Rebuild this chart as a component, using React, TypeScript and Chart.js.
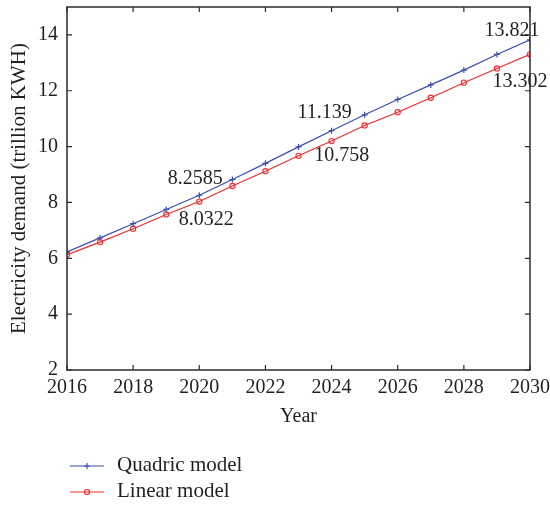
import React, { useEffect, useRef } from "react";
import { Chart, registerables } from "chart.js";

Chart.register(...registerables);

const years = [2016, 2017, 2018, 2019, 2020, 2021, 2022, 2023, 2024, 2025, 2026, 2027, 2028, 2029, 2030];
const quadric = [6.23, 6.73, 7.24, 7.75, 8.2585, 8.82, 9.4, 9.99, 10.57, 11.139, 11.69, 12.21, 12.74, 13.3, 13.821];
const linear = [6.13, 6.58, 7.06, 7.57, 8.0322, 8.59, 9.12, 9.67, 10.2, 10.758, 11.23, 11.75, 12.29, 12.8, 13.302];
const xTicks = [2016, 2018, 2020, 2022, 2024, 2026, 2028, 2030];
const yTicks = [2, 4, 6, 8, 10, 12, 14];
const seriesNames = ["Quadric model", "Linear model"];
const annotations = [
  { series: 0, year: 2020, text: "8.2585", dx: -4, dy: -16 },
  { series: 1, year: 2020, text: "8.0322", dx: 7, dy: 18 },
  { series: 0, year: 2025, text: "11.139", dx: -40, dy: -2 },
  { series: 1, year: 2025, text: "10.758", dx: -23, dy: 30 },
  { series: 0, year: 2030, text: "13.821", dx: -18, dy: -9 },
  { series: 1, year: 2030, text: "13.302", dx: -10, dy: 27 },
];

const BLUE = "#3a4db0";
const RED = "#f42a2a";
const FONT = "'Liberation Serif', 'DejaVu Serif', serif";
const TEXT = "#231f20";
const FS = 20;

const framePlugin = {
  id: "frame",
  afterDraw(chart: any) {
    const { ctx, chartArea: a, scales } = chart;
    const xs = scales.x, ys = scales.y;
    ctx.save();
    ctx.strokeStyle = "#2b2b2b";
    ctx.lineWidth = 1.5;
    ctx.strokeRect(a.left, a.top, a.right - a.left, a.bottom - a.top);
    const tl = 5;
    ctx.lineWidth = 1.2;
    ctx.beginPath();
    for (const v of xTicks) {
      const px = xs.getPixelForValue(v);
      ctx.moveTo(px, a.bottom); ctx.lineTo(px, a.bottom - tl);
      ctx.moveTo(px, a.top); ctx.lineTo(px, a.top + tl);
    }
    for (const v of yTicks) {
      const py = ys.getPixelForValue(v);
      ctx.moveTo(a.left, py); ctx.lineTo(a.left + tl, py);
      ctx.moveTo(a.right, py); ctx.lineTo(a.right - tl, py);
    }
    ctx.stroke();

    // annotations
    ctx.fillStyle = TEXT;
    ctx.font = `${FS}px ${FONT}`;
    ctx.textAlign = "center";
    ctx.textBaseline = "middle";
    for (const an of annotations) {
      const arr = an.series === 0 ? quadric : linear;
      const idx = years.indexOf(an.year);
      const px = xs.getPixelForValue(an.year);
      const py = ys.getPixelForValue(arr[idx]);
      ctx.fillText(an.text, px + an.dx, py + an.dy);
    }

    // legend
    const items = [
      { name: seriesNames[0], color: BLUE, style: "cross", y: 466 },
      { name: seriesNames[1], color: RED, style: "circle", y: 492 },
    ];
    ctx.font = `21px ${FONT}`;
    for (const it of items) {
      ctx.strokeStyle = it.color;
      ctx.lineWidth = 1.2;
      ctx.beginPath();
      ctx.moveTo(70, it.y); ctx.lineTo(104, it.y);
      ctx.stroke();
      ctx.beginPath();
      if (it.style === "cross") {
        ctx.moveTo(87, it.y - 3); ctx.lineTo(87, it.y + 3);
        ctx.moveTo(84, it.y); ctx.lineTo(90, it.y);
      } else {
        ctx.arc(87, it.y, 2.5, 0, Math.PI * 2);
      }
      ctx.stroke();
      ctx.fillStyle = TEXT;
      ctx.textAlign = "left";
      ctx.fillText(it.name, 117, it.y - 1);
    }
    ctx.restore();
  },
};

export default function App() {
  const ref = useRef<HTMLCanvasElement>(null);
  useEffect(() => {
    if (!ref.current) return;
    const chart = new Chart(ref.current, {
      type: "line",
      data: {
        datasets: [
          {
            label: seriesNames[0],
            data: years.map((y, i) => ({ x: y, y: quadric[i] })),
            borderColor: BLUE,
            backgroundColor: BLUE,
            borderWidth: 1.2,
            pointStyle: "cross",
            pointRadius: 3,
            pointBorderWidth: 1.2,
          },
          {
            label: seriesNames[1],
            data: years.map((y, i) => ({ x: y, y: linear[i] })),
            borderColor: RED,
            backgroundColor: "rgba(255,255,255,0)",
            borderWidth: 1.2,
            pointStyle: "circle",
            pointRadius: 2.6,
            pointBorderWidth: 1.1,
          },
        ],
      },
      options: {
        animation: false,
        responsive: false,
        layout: { padding: { left: 0, right: 20, top: 7, bottom: 76 } },
        plugins: { legend: { display: false }, tooltip: { enabled: false } },
        scales: {
          x: {
            type: "linear",
            min: 2016,
            max: 2030,
            grid: { display: false, drawTicks: false },
            border: { display: false },
            afterBuildTicks: (s: any) => { s.ticks = xTicks.map((v) => ({ value: v })); },
            afterFit: (s: any) => { s.height = 60; s.paddingLeft = 0; s.paddingRight = 0; },
            ticks: {
              padding: 6,
              color: TEXT,
              font: { family: FONT, size: FS },
              maxRotation: 0,
              autoSkip: false,
              callback: (v: any) => String(v),
            },
            title: {
              display: true,
              text: "Year",
              color: TEXT,
              font: { family: FONT, size: FS },
              padding: { top: 0, bottom: 1 },
            },
          },
          y: {
            type: "linear",
            min: 2,
            max: 15,
            grid: { display: false, drawTicks: false },
            border: { display: false },
            afterBuildTicks: (s: any) => { s.ticks = yTicks.map((v) => ({ value: v })); },
            afterFit: (s: any) => { s.width = 67; s.paddingTop = 0; s.paddingBottom = 0; },
            ticks: {
              padding: 9,
              color: TEXT,
              font: { family: FONT, size: FS },
              autoSkip: false,
            },
            title: {
              display: true,
              text: "Electricity demand (trillion KWH)",
              color: TEXT,
              font: { family: FONT, size: 21 },
              padding: { top: 7, bottom: 0 },
            },
          },
        },
      },
      plugins: [framePlugin],
    } as any);
    return () => chart.destroy();
  }, []);
  return (
    <div style={{ position: "fixed", left: 0, top: 0, width: 550, height: 506, background: "#fff" }}>
      <canvas ref={ref} width={550} height={506} />
    </div>
  );
}
